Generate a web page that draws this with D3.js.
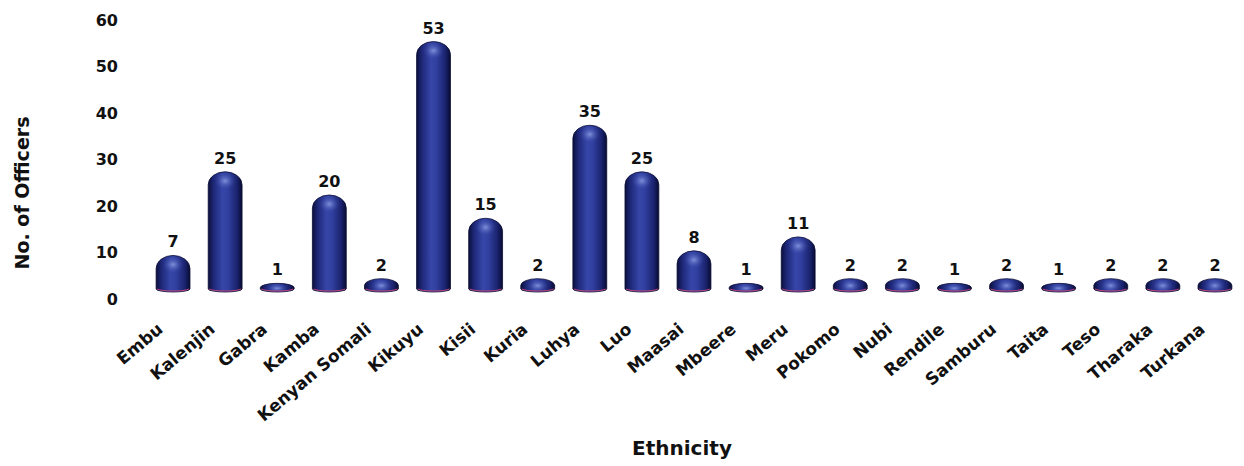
<!DOCTYPE html>
<html>
<head>
<meta charset="utf-8">
<script src="https://cdn.jsdelivr.net/npm/d3@7"></script>
<style>
  body { margin: 0; background: #fff; }
  text { font-family: "DejaVu Sans", sans-serif; font-weight: bold; fill: #111; }
</style>
</head>
<body>
<div id="chart"></div>
<script>
// data
const ethnicities = ["Embu", "Kalenjin", "Gabra", "Kamba", "Kenyan Somali", "Kikuyu", "Kisii",
  "Kuria", "Luhya", "Luo", "Maasai", "Mbeere", "Meru", "Pokomo", "Nubi", "Rendile",
  "Samburu", "Taita", "Teso", "Tharaka", "Turkana"];
const officers = [7, 25, 1, 20, 2, 53, 15, 2, 35, 25, 8, 1, 11, 2, 2, 1, 2, 1, 2, 2, 2];
const yTicks = [0, 10, 20, 30, 40, 50, 60];

const width = 1244, height = 466;
const svg = d3.select("#chart").append("svg")
    .attr("width", width)
    .attr("height", height);

const x = d3.scaleBand()
    .domain(ethnicities)
    .range([147, 1241])
    .paddingInner(0.35)
    .paddingOuter(0.175);

const y = d3.scaleLinear()
    .domain([0, 60])
    .range([291, 12]);

// cylinder shading
const defs = svg.append("defs");
const grad = defs.append("linearGradient").attr("id", "barGrad")
    .attr("x1", "0%").attr("x2", "100%").attr("y1", "0%").attr("y2", "0%");
[["0%", "#0a0f3c"], ["16%", "#1e2878"], ["42%", "#3646a8"], ["58%", "#3140a0"], ["85%", "#1a236e"], ["100%", "#070b30"]]
    .forEach(([o, c]) => grad.append("stop").attr("offset", o).attr("stop-color", c));
const hi = defs.append("radialGradient").attr("id", "capGrad")
    .attr("cx", "50%").attr("cy", "45%").attr("r", "50%");
hi.append("stop").attr("offset", "0%").attr("stop-color", "#9fb2f0").attr("stop-opacity", 0.7);
hi.append("stop").attr("offset", "100%").attr("stop-color", "#3342a6").attr("stop-opacity", 0);

function barPath(d, i) {
  const w = x.bandwidth();
  const x0 = x(ethnicities[i]);
  const yt = y(d) - 3;
  const yb = y(0) + 1;
  const h = yb - yt;
  const rt = Math.min(13, h / 2);
  const rb = Math.min(3, h / 2);
  return `M${x0},${yb - rb} L${x0},${yt + rt} A${w / 2},${rt} 0 0 1 ${x0 + w},${yt + rt}` +
    ` L${x0 + w},${yb - rb} A${w / 2},${rb} 0 0 1 ${x0},${yb - rb} Z`;
}

const bars = svg.append("g").attr("class", "bars");

bars.selectAll("path.bar")
    .data(officers)
    .enter()
    .append("path")
    .attr("class", "bar")
    .attr("d", barPath)
    .attr("fill", "url(#barGrad)")
    .attr("stroke", "#0a0d35")
    .attr("stroke-width", 0.8);

// top highlight
bars.selectAll("ellipse.cap")
    .data(officers)
    .enter()
    .append("ellipse")
    .attr("class", "cap")
    .attr("cx", (d, i) => x(ethnicities[i]) + x.bandwidth() / 2)
    .attr("cy", d => y(d) + Math.min(7, (y(0) - y(d)) / 2))
    .attr("rx", x.bandwidth() * 0.32)
    .attr("ry", d => Math.min(9, (y(0) - y(d) + 4) / 2))
    .attr("fill", "url(#capGrad)");

// pink rim at the bottom
bars.selectAll("path.rim")
    .data(officers)
    .enter()
    .append("path")
    .attr("class", "rim")
    .attr("d", (d, i) => {
      const x0 = x(ethnicities[i]), w = x.bandwidth();
      return `M${x0 + 1},${y(0) - 2} A${w / 2},3 0 0 0 ${x0 + w - 1},${y(0) - 2}`;
    })
    .attr("fill", "none")
    .attr("stroke", "#c0457a")
    .attr("stroke-width", 1);

// value labels
svg.append("g").selectAll("text")
    .data(officers)
    .enter()
    .append("text")
    .attr("x", (d, i) => x(ethnicities[i]) + x.bandwidth() / 2)
    .attr("y", d => y(d) - 11)
    .attr("text-anchor", "middle")
    .style("font-size", "16px")
    .text(d => d);

// y axis (labels only)
const yAxis = d3.axisLeft(y).tickValues(yTicks).tickSize(0).tickPadding(0);
const gy = svg.append("g")
    .attr("transform", "translate(118,8)")
    .call(yAxis);
gy.select(".domain").remove();
gy.selectAll("text")
    .attr("text-anchor", "end")
    .style("font-size", "16px")
    .style("font-family", "'DejaVu Sans', sans-serif")
    .style("font-weight", "bold")
    .attr("fill", "#111");

// x axis (rotated labels only)
const xAxis = d3.axisBottom(x).tickSize(0).tickPadding(0);
const gx = svg.append("g")
    .call(xAxis);
gx.select(".domain").remove();
gx.selectAll(".tick").attr("transform", null);
gx.selectAll("text")
    .attr("text-anchor", "end")
    .attr("y", null)
    .attr("dy", null)
    .attr("transform", d => `translate(${x(d) + x.bandwidth() / 2 - 9},331) rotate(-40)`)
    .style("font-size", "17px")
    .style("font-family", "'DejaVu Sans', sans-serif")
    .style("font-weight", "bold")
    .attr("fill", "#111");

// axis titles
svg.append("text")
    .attr("transform", "translate(29,193) rotate(-90)")
    .attr("text-anchor", "middle")
    .style("font-size", "19px")
    .text("No. of Officers");

svg.append("text")
    .attr("x", 682)
    .attr("y", 455)
    .attr("text-anchor", "middle")
    .style("font-size", "20px")
    .text("Ethnicity");
</script>
</body>
</html>
